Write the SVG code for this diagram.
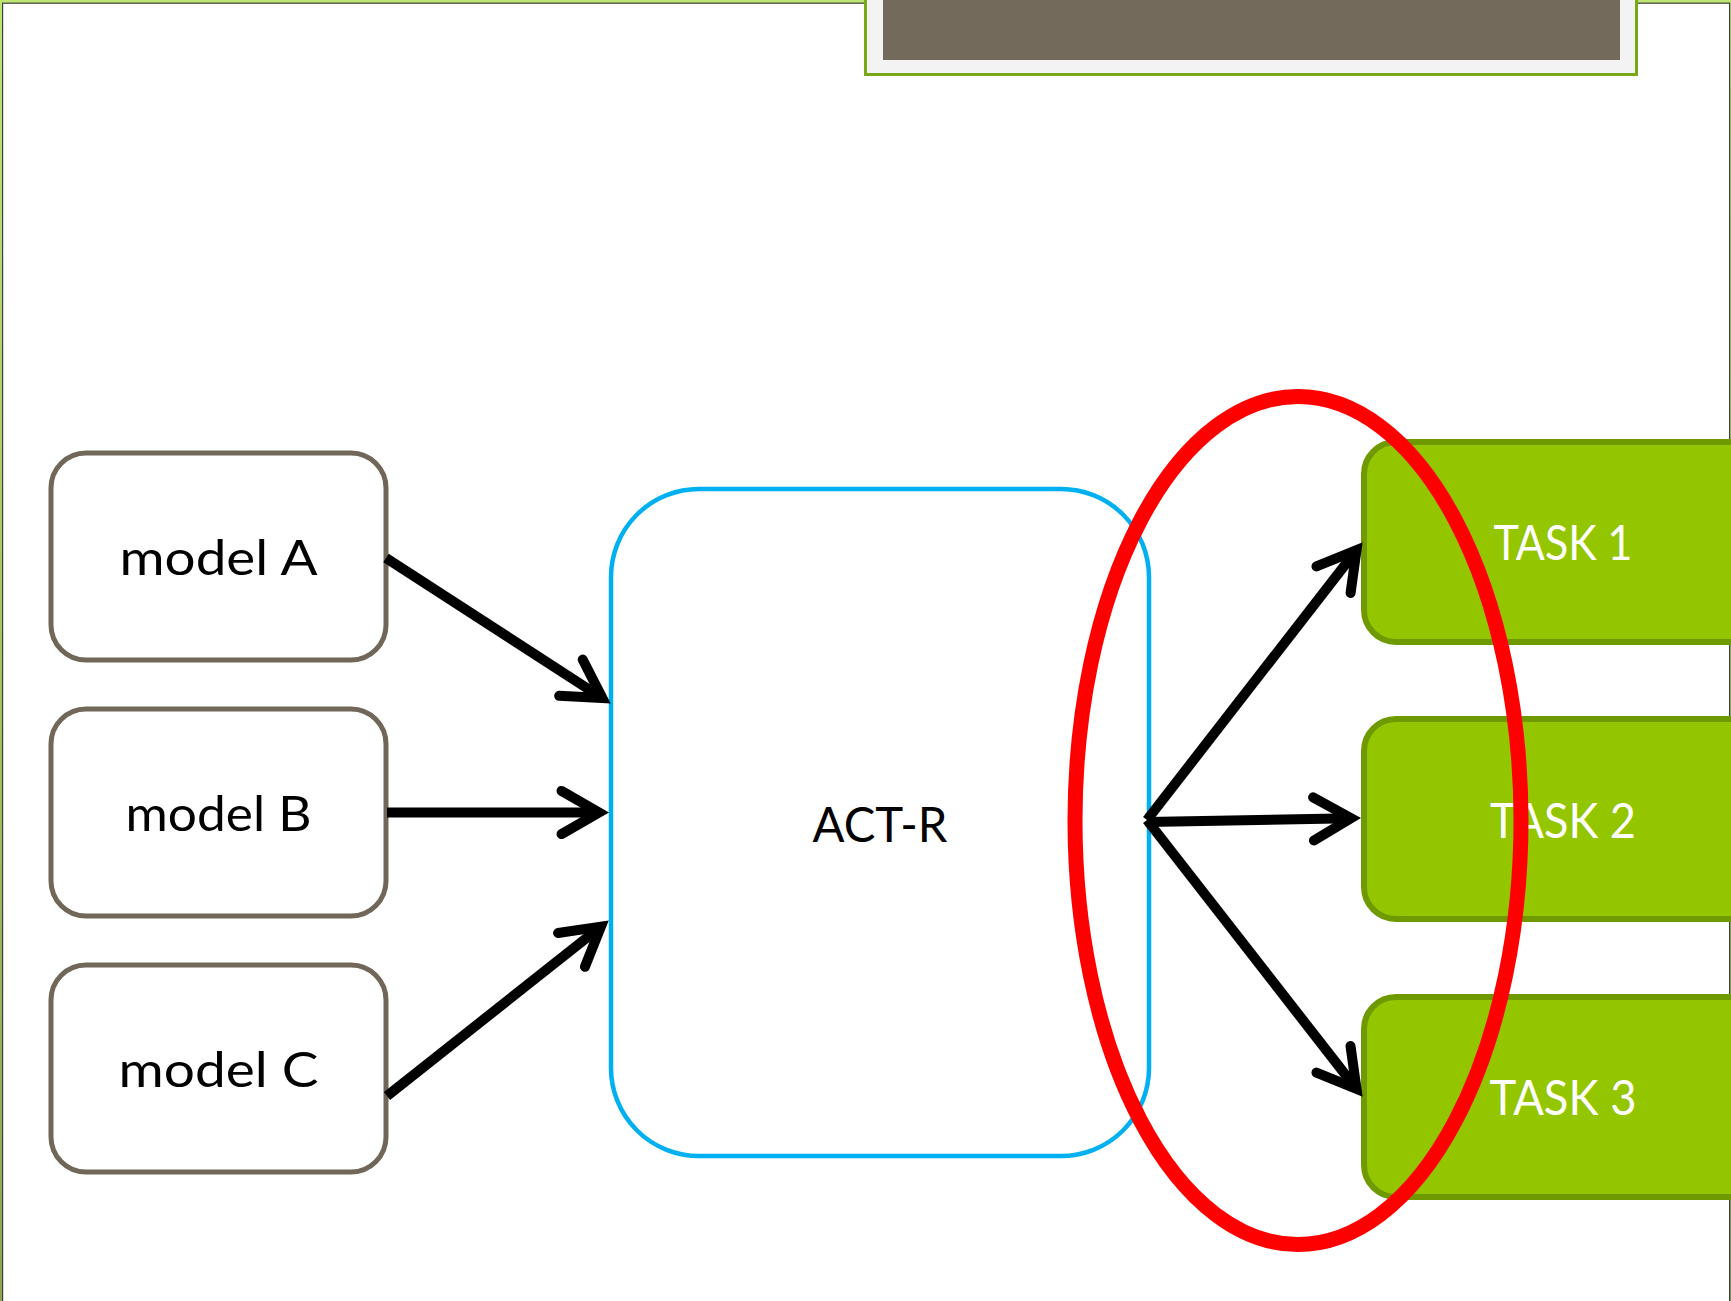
<svg xmlns="http://www.w3.org/2000/svg" width="1731" height="1301" viewBox="0 0 1731 1301">
  <defs>
    <linearGradient id="edge" x1="0" y1="0" x2="0" y2="1">
      <stop offset="0" stop-color="#BCE572"/>
      <stop offset="1" stop-color="#8FA553"/>
    </linearGradient>
    <marker id="head" markerUnits="userSpaceOnUse" markerWidth="80" markerHeight="80" refX="0" refY="0" orient="auto" overflow="visible">
      <path d="M-37.5,-21.6 L0,0 L-37.5,21.6" fill="none" stroke="#000" stroke-width="10" stroke-linecap="round" stroke-linejoin="miter" stroke-miterlimit="10"/>
    </marker>
    <style>
      .model rect { fill: #FFFFFF; stroke: #716759; stroke-width: 5; }
      .core rect { fill: #FFFFFF; stroke: #00B0F0; stroke-width: 4.5; }
      .task rect { fill: #94C600; stroke: #6E9A00; stroke-width: 6; }
      .label { font-family: Lato, "Liberation Sans", sans-serif; font-weight: 400; font-size: 48px; text-anchor: middle; }
      .dark { fill: #000000; }
      .light { fill: #FFFFFF; }
      .conn line { stroke: #000000; stroke-width: 10; stroke-linecap: butt; marker-end: url(#head); }
    </style>
  </defs>

  <!-- page frame -->
  <rect x="0" y="0" width="1731" height="1301" fill="url(#edge)"/>
  <rect x="2.6" y="3.2" width="1727" height="1400" fill="#FFFFFF" stroke="#3F3F3F" stroke-width="1.2"/>

  <!-- title bar -->
  <g id="title">
    <rect x="865.5" y="-10" width="771" height="84.5" fill="#F3F3F3" stroke="#78A814" stroke-width="3"/>
    <rect x="883" y="-5" width="737" height="65" fill="#736A5B"/>
  </g>

  <!-- input models -->
  <g id="modelA" class="model">
    <rect x="51" y="453" width="335" height="207" rx="35" ry="35"/>
    <text class="label dark" x="218.5" y="575" textLength="198" lengthAdjust="spacingAndGlyphs">model A</text>
  </g>
  <g id="modelB" class="model">
    <rect x="51" y="709" width="335" height="207" rx="35" ry="35"/>
    <text class="label dark" x="218.5" y="831" textLength="186" lengthAdjust="spacingAndGlyphs">model B</text>
  </g>
  <g id="modelC" class="model">
    <rect x="51" y="965" width="335" height="207" rx="35" ry="35"/>
    <text class="label dark" x="218.5" y="1087" textLength="200" lengthAdjust="spacingAndGlyphs">model C</text>
  </g>

  <!-- architecture -->
  <g id="actr" class="core">
    <rect x="611" y="489" width="538" height="667" rx="88" ry="88"/>
    <text class="label dark" x="880" y="842" textLength="135" lengthAdjust="spacingAndGlyphs">ACT-R</text>
  </g>

  <!-- tasks -->
  <g id="task1" class="task">
    <rect x="1364" y="442" width="400" height="200" rx="32" ry="32"/>
    <text class="label light" x="1563" y="560" textLength="139" lengthAdjust="spacingAndGlyphs">TASK 1</text>
  </g>
  <g id="task2" class="task">
    <rect x="1364" y="719" width="400" height="200" rx="32" ry="32"/>
    <text class="label light" x="1563" y="838" textLength="146" lengthAdjust="spacingAndGlyphs">TASK 2</text>
  </g>
  <g id="task3" class="task">
    <rect x="1364" y="997" width="400" height="200" rx="32" ry="32"/>
    <text class="label light" x="1563" y="1115" textLength="147" lengthAdjust="spacingAndGlyphs">TASK 3</text>
  </g>

  <!-- connectors -->
  <g id="connectors" class="conn">
    <line x1="386" y1="558" x2="602.4" y2="698.1"/>
    <line x1="387" y1="812.5" x2="599" y2="812.5"/>
    <line x1="387" y1="1096" x2="600.9" y2="926.6"/>
    <line x1="1147" y1="820" x2="1356.5" y2="550.1"/>
    <line x1="1147" y1="822" x2="1351" y2="818.2"/>
    <line x1="1147" y1="820" x2="1356.5" y2="1088.9"/>
  </g>

  <!-- highlight -->
  <g id="highlight">
    <ellipse cx="1298" cy="820.5" rx="223" ry="424" fill="none" stroke="#FF0000" stroke-width="15"/>
  </g>
</svg>
